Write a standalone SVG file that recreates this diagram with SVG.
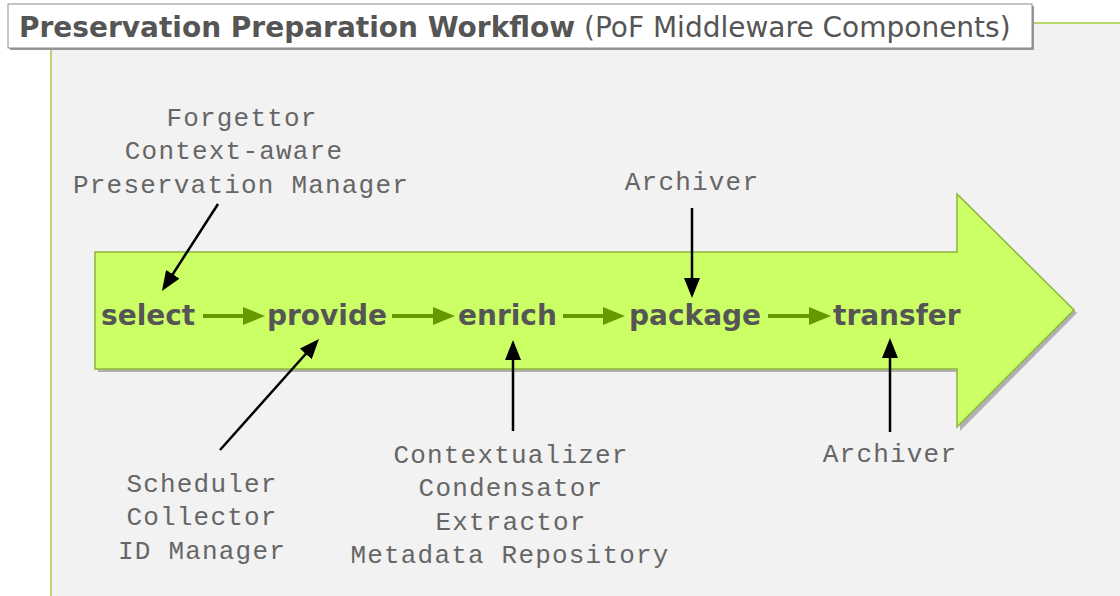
<svg xmlns="http://www.w3.org/2000/svg" width="1120" height="596" viewBox="0 0 1120 596">
  <style>
    .title-b { font-family: "DejaVu Sans", "Liberation Sans", sans-serif; font-weight: bold; font-size: 28px; fill: #555555; }
    .title-n { font-family: "DejaVu Sans", "Liberation Sans", sans-serif; font-weight: normal; font-size: 28px; fill: #555555; }
    .step { font-family: "DejaVu Sans", "Liberation Sans", sans-serif; font-weight: bold; font-size: 28px; fill: #555555; }
    .comp { font-family: "Liberation Mono", "DejaVu Sans Mono", monospace; font-size: 26px; letter-spacing: 1.2px; fill: #666666; text-anchor: middle; }
    .flow { stroke: #669900; stroke-width: 4; fill: none; }
    .link { stroke: #000000; stroke-width: 2.5; fill: none; }
  </style>
  <defs>
    <marker id="greenHead" markerUnits="userSpaceOnUse" markerWidth="22" markerHeight="18" refX="12" refY="9" orient="auto">
      <path d="M0,0 L22,9 L0,18 z" fill="#669900"/>
    </marker>
    <marker id="blackHead" markerUnits="userSpaceOnUse" markerWidth="20" markerHeight="16" refX="12" refY="8" orient="auto">
      <path d="M0,0 L20,8 L0,16 z" fill="#000000"/>
    </marker>
  </defs>

  <!-- background panel -->
  <rect x="0" y="0" width="1120" height="596" fill="#ffffff"/>
  <rect x="51" y="23" width="1069" height="573" fill="#f2f2f2"/>
  <line x1="51" y1="23" x2="51" y2="596" stroke="#b8d66e" stroke-width="2"/>
  <line x1="51" y1="23" x2="1120" y2="23" stroke="#b8d66e" stroke-width="2"/>

  <!-- title -->
  <g id="title">
    <rect x="10" y="6" width="1024" height="44" fill="#999999"/>
    <rect x="8" y="4" width="1024" height="44" fill="#ffffff" stroke="#8a8a8a" stroke-width="1"/>
    <text x="19" y="37"><tspan class="title-b">Preservation Preparation Workflow</tspan><tspan class="title-n"> (PoF Middleware Components)</tspan></text>
  </g>

  <!-- big arrow -->
  <g id="workflow-arrow">
    <polygon points="98,255 960,255 960,196 1077,313 960,431 960,372 98,372" fill="#b0b0b0"/>
    <polygon points="95,252 957,252 957,194 1074,310 957,427 957,369 95,369" fill="#ccff66" stroke="#8cb53c" stroke-width="1.5"/>
  </g>

  <!-- steps -->
  <g id="step-select"><text class="step" x="101" y="325">select</text></g>
  <g id="step-provide"><text class="step" x="267" y="325">provide</text></g>
  <g id="step-enrich"><text class="step" x="458" y="325">enrich</text></g>
  <g id="step-package"><text class="step" x="629" y="325">package</text></g>
  <g id="step-transfer"><text class="step" x="833" y="325">transfer</text></g>

  <!-- components -->
  <g id="comp-select">
    <text class="comp" x="242" y="126">Forgettor</text>
    <text class="comp" x="234" y="159">Context-aware</text>
    <text class="comp" x="241" y="193">Preservation Manager</text>
  </g>
  <g id="comp-package">
    <text class="comp" x="692" y="190">Archiver</text>
  </g>
  <g id="comp-provide">
    <text class="comp" x="202" y="492">Scheduler</text>
    <text class="comp" x="202" y="525">Collector</text>
    <text class="comp" x="202" y="559">ID Manager</text>
  </g>
  <g id="comp-enrich">
    <text class="comp" x="511" y="463">Contextualizer</text>
    <text class="comp" x="511" y="496">Condensator</text>
    <text class="comp" x="511" y="530">Extractor</text>
    <text class="comp" x="510" y="563">Metadata Repository</text>
  </g>
  <g id="comp-transfer">
    <text class="comp" x="890" y="462">Archiver</text>
  </g>

  <!-- connectors -->
  <g id="connectors">
    <line class="flow" x1="203" y1="316" x2="255" y2="316" marker-end="url(#greenHead)"/>
    <line class="flow" x1="392" y1="316" x2="445" y2="316" marker-end="url(#greenHead)"/>
    <line class="flow" x1="563" y1="316" x2="615" y2="316" marker-end="url(#greenHead)"/>
    <line class="flow" x1="768" y1="316" x2="821" y2="316" marker-end="url(#greenHead)"/>

    <line class="link" x1="218" y1="204" x2="166.3" y2="284.3" marker-end="url(#blackHead)"/>
    <line class="link" x1="220" y1="450" x2="313.7" y2="345" marker-end="url(#blackHead)"/>
    <line class="link" x1="513" y1="431" x2="513" y2="348" marker-end="url(#blackHead)"/>
    <line class="link" x1="692" y1="208" x2="692" y2="290" marker-end="url(#blackHead)"/>
    <line class="link" x1="890" y1="432" x2="890" y2="346" marker-end="url(#blackHead)"/>
  </g>
</svg>
